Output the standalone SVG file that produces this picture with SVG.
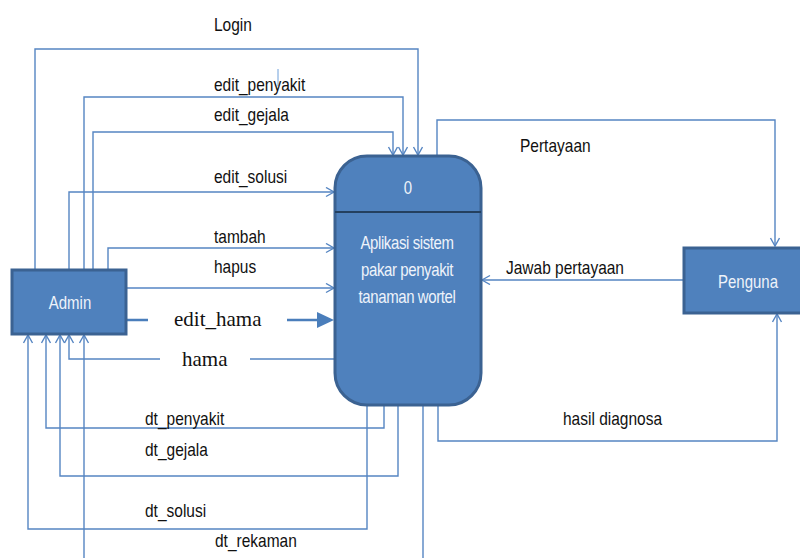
<svg xmlns="http://www.w3.org/2000/svg" width="800" height="558" viewBox="0 0 800 558">
<style>
.bg{fill:#ffffff}
.box{fill:#4F81BD;stroke:#3B6292;stroke-width:3}
.ln{fill:none;stroke:#5585C2;stroke-width:1.4}
.lbl{font-family:"Liberation Sans",Arial,sans-serif;font-size:15.5px;fill:#111}
.ser{font-family:"Liberation Serif","Times New Roman",serif;font-size:21px;fill:#111}
.wt{font-family:"Liberation Sans",Arial,sans-serif;font-size:15px;fill:#EEF3FA;text-anchor:middle}
</style>
<defs>
<marker id="ah" markerWidth="12" markerHeight="12" refX="9" refY="5" orient="auto" markerUnits="userSpaceOnUse">
<path d="M1,0.5 L9,5 L1,9.5" fill="none" stroke="#5585C2" stroke-width="1.4"/>
</marker>
</defs>
<rect class="bg" x="0" y="0" width="800" height="558"/>
<g id="connectors">
<path class="ln" d="M35,269 V49 H418 V155" marker-end="url(#ah)"/>
<path class="ln" d="M84,269 V97 H403 V155" marker-end="url(#ah)"/>
<path class="ln" d="M93,269 V132 H393 V155" marker-end="url(#ah)"/>
<path class="ln" d="M69,269 V192 H334" marker-end="url(#ah)"/>
<path class="ln" d="M108,269 V248 H334" marker-end="url(#ah)"/>
<path class="ln" d="M126,288 H334" marker-end="url(#ah)" style="stroke:#7FA3D3;stroke-width:2"/>
<path d="M126,320 H148 M287,320 H318" fill="none" stroke="#4A7EBB" stroke-width="2.5"/>
<polygon points="317,312 334,320 317,328" fill="#4A7EBB"/>
<path class="ln" d="M335,359 H250"/>
<path class="ln" d="M160,359 H69 V335" marker-end="url(#ah)"/>
<path class="ln" d="M384,405 V428 H46 V335" marker-end="url(#ah)"/>
<path class="ln" d="M398,405 V476 H60 V335" marker-end="url(#ah)"/>
<path class="ln" d="M367,405 V529 H28 V335" marker-end="url(#ah)"/>
<path class="ln" d="M423,405 V558"/>
<path class="ln" d="M84,558 V335" marker-end="url(#ah)"/>
<path class="ln" d="M438,405 V441 H777 V314" marker-end="url(#ah)"/>
<path class="ln" d="M437,155 V120 H775 V246" marker-end="url(#ah)"/>
<path class="ln" d="M683,280 H482" marker-end="url(#ah)"/>
<path d="M278,69 V86" stroke="#6FA0DA" stroke-width="1"/>
<text class="lbl" transform="translate(214,31) scale(1,1.2)">Login</text>
<text class="lbl" transform="translate(214,91) scale(1,1.2)">edit_penyakit</text>
<text class="lbl" transform="translate(214,121) scale(1,1.2)">edit_gejala</text>
<text class="lbl" transform="translate(214,183) scale(1,1.2)">edit_solusi</text>
<text class="lbl" transform="translate(214,243) scale(1,1.2)">tambah</text>
<text class="lbl" transform="translate(214,273) scale(1,1.2)">hapus</text>
<text class="ser" x="174" y="326">edit_hama</text>
<text class="ser" x="182" y="366">hama</text>
<text class="lbl" transform="translate(145,425) scale(1,1.2)">dt_penyakit</text>
<text class="lbl" transform="translate(145,456) scale(1,1.2)">dt_gejala</text>
<text class="lbl" transform="translate(145,517) scale(1,1.2)">dt_solusi</text>
<text class="lbl" transform="translate(215,547) scale(1,1.2)">dt_rekaman</text>
<text class="lbl" transform="translate(563,425) scale(1,1.2)">hasil diagnosa</text>
<text class="lbl" transform="translate(520,152) scale(1,1.2)">Pertayaan</text>
<text class="lbl" transform="translate(506,274) scale(1,1.2)">Jawab pertayaan</text>
</g>
<g id="process">
<rect class="box" x="335" y="156" width="146" height="249" rx="32" ry="32"/>
<line x1="335" y1="212" x2="481" y2="212" stroke="#24405F" stroke-width="2"/>
<text class="wt" transform="translate(408,194) scale(1,1.2)">0</text>
<text class="wt" transform="translate(407,249) scale(1,1.2)" letter-spacing="-0.4">Aplikasi sistem</text>
<text class="wt" transform="translate(407,276) scale(1,1.2)" letter-spacing="-0.4">pakar penyakit</text>
<text class="wt" transform="translate(407,303) scale(1,1.2)" letter-spacing="-0.4">tanaman wortel</text>
</g>
<g id="admin">
<rect class="box" x="12" y="270" width="114" height="64"/>
<text class="wt" transform="translate(70,309) scale(1,1.2)">Admin</text>
</g>
<g id="penguna">
<rect class="box" x="684" y="248" width="120" height="65"/>
<text class="wt" transform="translate(748,288) scale(1,1.2)">Penguna</text>
</g>
</svg>
